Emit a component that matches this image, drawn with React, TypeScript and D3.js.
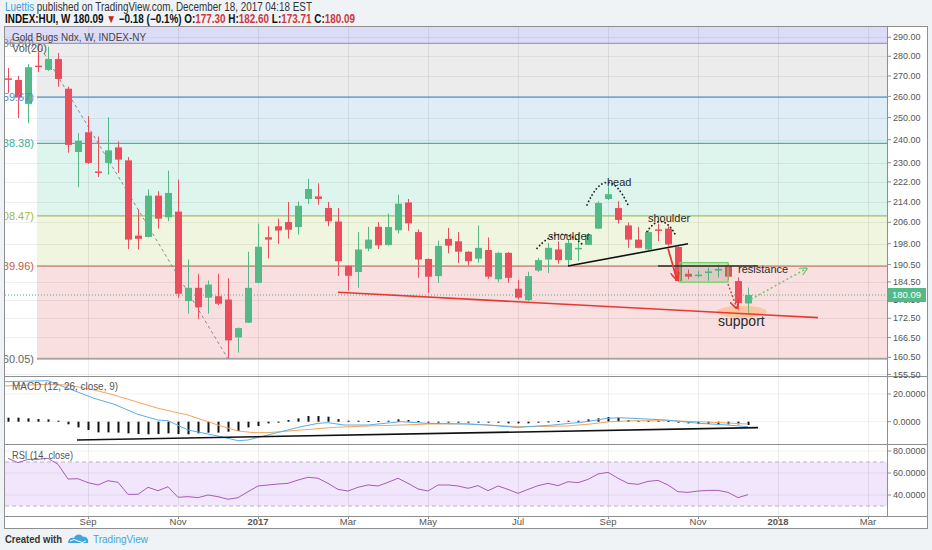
import React from 'react';
import * as d3 from 'd3';

// HUI weekly bars, first bar = week of 2016-07-11
const barOpen = [268.8, 268.0, 256.4, 275.2, 273.0, 278.6, 263.7, 234.6, 243.3, 226.3, 229.9, 236.6, 231.0, 201.0, 200.5, 216.4, 207.9, 210.1, 178.1, 182.5, 179.2, 179.7, 178.6, 166.5, 171.1, 184.2, 200.4, 204.5, 206.1, 204.2, 215.1, 216.1, 211.5, 206.3, 190.1, 187.9, 196.2, 204.3, 197.5, 203.0, 213.7, 202.3, 192.5, 186.5, 199.8, 198.9, 195.1, 192.6, 195.7, 185.4, 194.7, 182.2, 178.4, 188.4, 192.3, 195.9, 192.1, 196.1, 197.6, 203.6, 215.1, 211.5, 204.8, 199.5, 195.9, 203.3, 203.6, 196.8, 187.3, 186.6, 187.6, 188.4, 190.1, 184.8, 177.30];
const barHigh = [274.0, 270.0, 276.0, 286.8, 285.0, 281.7, 264.7, 242.9, 250.7, 241.4, 250.2, 239.2, 232.4, 210.9, 218.9, 218.2, 226.6, 222.9, 192.3, 187.3, 185.0, 187.3, 185.7, 169.6, 195.1, 205.5, 204.5, 207.4, 213.9, 214.1, 223.2, 221.4, 213.9, 211.5, 190.2, 202.3, 204.3, 206.1, 209.4, 216.8, 215.1, 203.3, 192.7, 199.1, 203.9, 202.3, 195.3, 204.8, 200.3, 194.9, 195.0, 185.2, 188.0, 192.9, 198.3, 198.9, 199.5, 201.9, 202.0, 214.2, 220.1, 214.2, 205.9, 204.2, 203.0, 205.5, 204.5, 197.0, 188.8, 188.2, 189.4, 190.5, 190.8, 186.0, 182.60];
const barLow = [261.6, 249.8, 247.4, 272.0, 272.5, 264.7, 234.3, 219.8, 229.5, 224.0, 225.0, 225.7, 196.1, 195.9, 200.3, 203.6, 206.4, 179.2, 174.0, 172.2, 174.0, 176.8, 160.3, 161.9, 171.0, 184.0, 192.7, 198.0, 199.9, 201.4, 213.1, 212.8, 204.5, 186.5, 181.6, 182.5, 195.3, 196.1, 197.3, 201.8, 202.8, 185.9, 180.7, 184.2, 194.5, 191.0, 190.2, 191.2, 185.6, 184.4, 184.2, 178.7, 178.1, 188.0, 187.6, 190.8, 190.2, 191.8, 197.5, 203.5, 214.7, 205.5, 196.5, 196.3, 195.7, 199.0, 197.1, 184.5, 185.4, 186.0, 184.9, 186.0, 185.1, 175.1, 173.71];
const barClose = [268.2, 259.4, 274.4, 274.6, 278.6, 268.5, 237.7, 239.5, 229.9, 225.7, 235.3, 231.3, 199.5, 199.8, 216.4, 207.4, 217.5, 180.5, 182.5, 176.1, 183.6, 177.2, 165.6, 169.4, 182.5, 196.9, 199.5, 202.9, 203.2, 212.4, 219.1, 215.1, 206.4, 191.7, 186.6, 195.9, 199.5, 197.4, 204.2, 213.2, 205.6, 192.3, 186.3, 197.2, 197.3, 195.1, 191.7, 196.5, 186.3, 194.7, 185.9, 179.2, 186.5, 192.1, 196.5, 192.1, 198.3, 196.5, 201.4, 213.5, 217.0, 206.9, 199.5, 196.5, 202.3, 202.9, 197.7, 184.8, 186.3, 187.0, 188.1, 189.0, 186.3, 177.4, 180.09];

// MACD (12, 26, close, 9)
const histVals = [2.9, 2.9, 2.4, 1.9, 1.7, 0.7, -1.9, -4.1, -6.0, -7.7, -7.7, -7.9, -8.4, -8.9, -9.1, -8.9, -8.4, -8.9, -9.1, -8.4, -7.9, -7.9, -7.2, -6.7, -4.1, -3.1, -1.2, -0.2, 1.2, 2.4, 4.1, 4.1, 3.6, 1.9, 0.7, 0.7, 0.5, 0.5, 0.7, 1.7, 1.2, 0.5, -0.5, -0.5, -0.5, -0.5, -0.5, -0.3, -0.7, -0.7, -1.2, -1.2, -1.2, -0.5, 0.2, 0.5, 0.7, 0.7, 1.7, 2.4, 3.4, 2.9, 1.2, 0.7, 0.7, 0.7, 0.5, -0.7, -1.2, -1.7, -1.7, -1.7, -1.9, -1.9, -2.4];
const macdBars = [-0.3, 4, 6, 8.6, 10.6, 13, 15, 16, 18, 20, 21.3, 23, 24, 25.3, 27.6, 29.3, 31, 32, 33.6, 36, 39.3, 42, 45.9, 47.9, 50.9, 54.2, 57.6, 59.9, 61.2, 65.9, 69.2, 71.9, 74];
const macdVals = [28.9, 29.6, 24.1, 16.9, 12.6, 5.3, 1.2, 0.7, -6.0, -8.9, -10.8, -13.7, -13.2, -10.8, -6.7, -3.6, -1.2, -0.7, -2.4, -2.4, 0.0, -1.2, -1.7, -2.4, -4.1, -2.6, -0.2, 2.4, 2.9, 1.2, -1.2, -2.4, -3.6];
const signalBars = [-0.3, 4, 6, 8.6, 10.6, 15, 18, 21, 23, 24.6, 26, 29.3, 32.6, 36, 39.3, 42, 45.9, 50.9, 55.9, 58.2, 60.2, 62.6, 65.9, 69.2, 74];
const signalVals = [25.8, 27.0, 26.5, 22.9, 19.3, 9.7, 4.8, -2.4, -6.7, -7.9, -7.9, -6.0, -4.1, -3.1, -2.4, -1.7, -1.5, -3.6, -3.1, -1.7, 0.0, 0.7, 0.7, 0.0, -1.7];

// RSI (14, close)
const rsiVals = [73.4, 69.4, 72.4, 72.4, 73.4, 67.9, 54.5, 54.8, 51.2, 49.1, 53.0, 51.5, 40.6, 40.6, 47.0, 43.9, 47.5, 37.9, 38.5, 37.6, 40.0, 38.5, 36.1, 37.6, 43.0, 48.2, 49.1, 50.0, 50.6, 53.6, 56.1, 55.2, 50.6, 45.1, 43.6, 47.0, 49.1, 48.2, 51.5, 55.2, 50.6, 45.5, 43.6, 49.1, 49.1, 48.2, 46.1, 48.5, 43.9, 48.2, 45.1, 41.5, 45.1, 48.5, 50.6, 48.5, 52.1, 51.2, 54.2, 59.1, 60.6, 55.2, 50.6, 49.7, 52.4, 53.3, 49.1, 43.0, 42.4, 43.6, 44.2, 44.2, 42.4, 37.6, 40.3];

// axes
const timeTicks = [new Date(2016, 8, 5), new Date(2016, 10, 7), new Date(2017, 0, 2), new Date(2017, 2, 6), new Date(2017, 4, 1), new Date(2017, 6, 3), new Date(2017, 8, 4), new Date(2017, 10, 6), new Date(2018, 0, 1), new Date(2018, 2, 5)];
const timeLabels = ['Sep', 'Nov', '2017', 'Mar', 'May', 'Jul', 'Sep', 'Nov', '2018', 'Mar'];
const priceTicks = [290, 280, 270, 260, 250, 240, 230, 222, 214, 206, 198, 190.5, 184.5, 178.5, 172.5, 166.5, 160.5, 155.5];
const macdTicks = [20, 0];
const rsiTicks = [80, 60, 40];

// fib retracement drawn from bar 3 high to bar 22 low
const fibLevels = [286.80, 259.67, 238.38, 208.47, 189.96, 160.05];
const fibLabels = ['(286.80)', '(259.67)', '(238.38)', '(208.47)', '(189.96)', '(160.05)'];
const fibLineColors = ['#9d9bb8', '#4a94d6', '#3dbba0', '#a3bf55', '#be7d6c', '#8a8a8a'];
const fibTextColors = ['#8a8a8a', '#3f8fd4', '#32b496', '#a0bb48', '#c0604e', '#666'];
const fibBandColors = ['#ececec', '#dfedf7', '#def5ee', '#eff5de', '#f9dfe0'];

// annotations, [bar index, price]
const supportLine = [[33.0, 181.0], [81.0, 172.7]];
const necklineLine = [[56.0, 190.0], [68.0, 198.0]];
const resistLine = [[65.0, 190.0], [75.0, 190.0]];
const resistBox = [[67.2, 191.2], [72.0, 184.4]];
const dropArrow = [[66.0, 196.3], [66.9, 185.2]];
const fallArrow = [[72.0, 183.8], [72.9, 175.7]];
const bounceArrow = [[74.3, 178.7], [79.9, 189.2]];
const supportZone = [73.4, 174.6];
const headArc = [[57.9, 212.7], [59.9, 231.2], [62.0, 212.7]];
const leftShoulderArc = [[52.9, 196.3], [55.2, 206.1], [57.5, 197.5]];
const rightShoulderArc = [[63.9, 202.5], [65.4, 210.9], [66.8, 200.9]];
const noteText = ['head', 'shoulder', 'shoulder', 'resistance', 'support'];
const notePos = [[59.9, 220.3], [54.0, 199.4], [64.0, 206.3], [73.0, 187.6], [71.0, 170.1]];

const UP = '#53b987';
const DOWN = '#eb4d5c';
const FONT = '"Liberation Sans", Arial, sans-serif';

export default function App() {
	const firstBar = new Date(2016, 6, 11);
	const x = d3.scaleLinear().domain([0, 86]).range([8, 868]);
	const y = d3.scaleLog().domain([160.5, 290]).range([357.3, 37.3]);
	const yM = d3.scaleLinear().domain([0, 20]).range([421.7, 394]);
	const yR = d3.scaleLinear().domain([40, 80]).range([495, 451]);
	const tickX = timeTicks.map(d => x(d3.timeWeek.count(firstBar, d)));

	const paneL = 5, paneR = 887, frameR = 927;
	const mainT = 27, mainB = 376, macdB = 444, rsiB = 516, axisB = 528;

	const P = (p: number[]) => [x(p[0]), y(p[1])] as [number, number];
	const seg = (s: number[][]) => {
		const a = P(s[0]), b = P(s[1]);
		return { x1: a[0], y1: a[1], x2: b[0], y2: b[1] };
	};
	const arcPath = (s: number[][]) => {
		const a = P(s[0]), c = P(s[1]), b = P(s[2]);
		return `M${a[0]},${a[1]} Q${c[0]},${c[1]} ${b[0]},${b[1]}`;
	};

	const macdLine = d3.line<number>().x((d, i) => x(macdBars[i])).y(d => yM(d))(macdVals);
	const signalLine = d3.line<number>().x((d, i) => x(signalBars[i])).y(d => yM(d))(signalVals);
	const rsiLine = d3.line<number>().x((d, i) => x(i)).y(d => yR(d))(rsiVals);

	const fibX0 = x(3) - 1;
	const last = barClose[barClose.length - 1];
	const box0 = P(resistBox[0]), box1 = P(resistBox[1]);
	const zone = P(supportZone);

	return (
		<svg width={932} height={550} style={{ position: 'absolute', left: 0, top: 0 }} fontFamily={FONT}>
			<defs>
				<clipPath id="mainClip"><rect x={paneL} y={mainT} width={paneR - paneL} height={mainB - mainT} /></clipPath>
				<clipPath id="macdClip"><rect x={paneL} y={mainB} width={paneR - paneL} height={macdB - mainB} /></clipPath>
				<clipPath id="rsiClip"><rect x={paneL} y={macdB} width={paneR - paneL} height={rsiB - macdB} /></clipPath>
				<marker id="arRed" viewBox="0 0 10 10" refX="9" refY="5" markerWidth="9" markerHeight="9" markerUnits="userSpaceOnUse" orient="auto">
					<path d="M0,0 L10,5 L0,10" fill="none" stroke="#e53935" strokeWidth="1.8" />
				</marker>
				<marker id="arGreen" viewBox="0 0 10 10" refX="9" refY="5" markerWidth="8" markerHeight="8" markerUnits="userSpaceOnUse" orient="auto">
					<path d="M0,0 L10,5 L0,10" fill="none" stroke="#66cc66" strokeWidth="1.5" />
				</marker>
			</defs>

			<rect width={932} height={550} fill="#eff3f6" />

			{/* header */}
			<text x={5} y={11} fontSize={12} fill="#333" textLength={307} lengthAdjust="spacingAndGlyphs">
				<tspan fill="#3aa0dc">Luettis</tspan> published on TradingView.com, December 18, 2017 04:18 EST
			</text>
			<text x={5} y={22.5} fontSize={12} fill="#111" fontWeight={600} textLength={350} lengthAdjust="spacingAndGlyphs">
				INDEX:HUI, W  180.09 <tspan fill="#c62828">▼</tspan> −0.18 (−0.1%) O:<tspan fill="#d0363d">177.30</tspan> H:<tspan fill="#d0363d">182.60</tspan> L:<tspan fill="#d0363d">173.71</tspan> C:<tspan fill="#d0363d">180.09</tspan>
			</text>

			<rect x={paneL - 0.5} y={mainT - 0.5} width={frameR - paneL + 1} height={axisB - mainT + 1} fill="#fff" stroke="#8f8f8f" />

			{/* main pane */}
			<g clipPath="url(#mainClip)">
				<rect x={paneL} y={mainT} width={paneR - paneL} height={y(fibLevels[0]) - mainT} fill="#dddcf8" />
				{fibBandColors.map((c, i) => (
					<rect key={i} x={fibX0} y={y(fibLevels[i])} width={paneR - fibX0} height={y(fibLevels[i + 1]) - y(fibLevels[i])} fill={c} />
				))}
				{priceTicks.map(p => (
					<line key={p} x1={paneL} x2={paneR} y1={Math.round(y(p)) + 0.5} y2={Math.round(y(p)) + 0.5} stroke="#000" strokeOpacity={0.06} />
				))}
				{tickX.map((tx, i) => (
					<line key={i} x1={tx + 0.5} x2={tx + 0.5} y1={mainT} y2={mainB} stroke="#000" strokeOpacity={0.07} />
				))}
				{fibLevels.map((f, i) => (
					<line key={f} x1={i === 0 ? paneL : fibX0} x2={paneR} y1={y(f)} y2={y(f)} stroke={fibLineColors[i]} strokeWidth={1.2} />
				))}
				<line x1={x(3)} y1={y(fibLevels[0])} x2={x(22)} y2={y(fibLevels[5])} stroke="#8a8a8a" strokeDasharray="3,3" />
				<line x1={paneL} x2={paneR} y1={y(last)} y2={y(last)} stroke="#4fa88a" strokeDasharray="1,2" />

				{barOpen.map((o, i) => {
					const c = barClose[i];
					const col = c >= o ? UP : DOWN;
					const cx = Math.round(x(i)) + 0.5;
					const top = y(Math.max(o, c)), bot = y(Math.min(o, c));
					return (
						<g key={i}>
							<line x1={cx} x2={cx} y1={y(barHigh[i])} y2={y(barLow[i])} stroke={col} />
							<rect x={cx - 3.5} y={top} width={7} height={Math.max(1.5, bot - top)} fill={col} />
						</g>
					);
				})}

				{/* drawings */}
				<ellipse cx={zone[0]} cy={zone[1]} rx={25} ry={6} fill="#ffa040" fillOpacity={0.4} />
				<line {...seg(supportLine)} stroke="#e53935" strokeWidth={1.6} />
				<line {...seg(necklineLine)} stroke="#111" strokeWidth={1.6} />
				<rect x={box0[0]} y={box0[1]} width={box1[0] - box0[0]} height={box1[1] - box0[1]} fill="#6e8a5e" fillOpacity={0.22} stroke="#72d46a" strokeWidth={1.3} />
				<line {...seg(resistLine)} stroke="#333" strokeWidth={1.6} />
				<line {...seg(dropArrow)} stroke="#e53935" strokeWidth={1.8} markerEnd="url(#arRed)" />
				<line {...seg(fallArrow)} stroke="#e53935" strokeWidth={1.5} strokeDasharray="2,2" markerEnd="url(#arRed)" />
				<line {...seg(bounceArrow)} stroke="#66cc66" strokeWidth={1.5} strokeDasharray="2,2.5" markerEnd="url(#arGreen)" />
				{[headArc, leftShoulderArc, rightShoulderArc].map((a, i) => (
					<path key={i} d={arcPath(a)} fill="none" stroke="#222" strokeWidth={1.8} strokeDasharray="0.1,3.6" strokeLinecap="round" />
				))}
				{noteText.map((t, i) => {
					const p = P(notePos[i]);
					return (
						<text key={i} x={p[0]} y={p[1]} fontSize={t === 'support' ? 14 : 11} fill="#2a2a2a">{t}</text>
					);
				})}

				{fibLevels.map((f, i) => (
					<text key={f} x={34} y={y(f)} dy="0.35em" textAnchor="end" fontSize={11} fill={fibTextColors[i]}>{fibLabels[i]}</text>
				))}
				<text x={12} y={41} fontSize={11} fill="#444" textLength={134} lengthAdjust="spacingAndGlyphs">Gold Bugs Ndx, W, INDEX-NY</text>
				<text x={12} y={52} fontSize={11} fill="#555">Vol(20)</text>
			</g>

			{/* MACD pane */}
			<g clipPath="url(#macdClip)">
				{macdTicks.map(v => (
					<line key={v} x1={paneL} x2={paneR} y1={yM(v)} y2={yM(v)} stroke="#000" strokeOpacity={0.06} />
				))}
				{tickX.map((tx, i) => (
					<line key={i} x1={tx + 0.5} x2={tx + 0.5} y1={mainB} y2={macdB} stroke="#000" strokeOpacity={0.07} />
				))}
				{histVals.map((v, i) => (
					<rect key={i} x={Math.round(x(i)) - 0.5} y={Math.min(yM(v), yM(0))} width={2} height={Math.max(1, Math.abs(yM(v) - yM(0)))} fill="#111" />
				))}
				<path d={signalLine ?? ''} fill="none" stroke="#f4a460" strokeWidth={1} />
				<path d={macdLine ?? ''} fill="none" stroke="#5aaee6" strokeWidth={1} />
				<line x1={x(6.9)} y1={yM(-13.2)} x2={x(75)} y2={yM(-4.3)} stroke="#111" strokeWidth={1.6} />
				<text x={12} y={390} fontSize={11} fill="#555" textLength={106} lengthAdjust="spacingAndGlyphs">MACD (12, 26, close, 9)</text>
			</g>

			{/* RSI pane */}
			<g clipPath="url(#rsiClip)">
				<rect x={paneL} y={yR(70)} width={paneR - paneL} height={yR(30) - yR(70)} fill="#f1e6fb" />
				{rsiTicks.map(v => (
					<line key={v} x1={paneL} x2={paneR} y1={yR(v)} y2={yR(v)} stroke="#000" strokeOpacity={0.06} />
				))}
				{tickX.map((tx, i) => (
					<line key={i} x1={tx + 0.5} x2={tx + 0.5} y1={macdB} y2={rsiB} stroke="#000" strokeOpacity={0.07} />
				))}
				{[70, 30].map(v => (
					<line key={v} x1={paneL} x2={paneR} y1={yR(v)} y2={yR(v)} stroke="#b9b2c6" strokeDasharray="4,3" />
				))}
				<path d={rsiLine ?? ''} fill="none" stroke="#a85cb8" strokeWidth={1} />
				<text x={12} y={459} fontSize={11} fill="#555" textLength={61} lengthAdjust="spacingAndGlyphs">RSI (14, close)</text>
			</g>

			{/* separators */}
			{[mainB, macdB, rsiB].map(v => (
				<line key={v} x1={paneL} x2={frameR} y1={v + 0.5} y2={v + 0.5} stroke="#8f8f8f" />
			))}
			<line x1={paneR + 0.5} x2={paneR + 0.5} y1={mainT} y2={rsiB} stroke="#8f8f8f" />

			{/* price axis */}
			{priceTicks.map(p => (
				<g key={p}>
					<line x1={paneR} x2={paneR + 4} y1={y(p)} y2={y(p)} stroke="#8f8f8f" />
					<text x={893} y={y(p)} dy="0.35em" fontSize={9} fill="#555">{p.toFixed(2)}</text>
				</g>
			))}
			<rect x={888} y={y(last) - 7} width={38} height={14} fill={UP} />
			<text x={892} y={y(last)} dy="0.35em" fontSize={9.5} fill="#fff">{last.toFixed(2)}</text>
			{macdTicks.map(v => (
				<g key={v}>
					<line x1={paneR} x2={paneR + 4} y1={yM(v)} y2={yM(v)} stroke="#8f8f8f" />
					<text x={893} y={yM(v)} dy="0.35em" fontSize={9} fill="#555">{v.toFixed(4)}</text>
				</g>
			))}
			{rsiTicks.map(v => (
				<g key={v}>
					<line x1={paneR} x2={paneR + 4} y1={yR(v)} y2={yR(v)} stroke="#8f8f8f" />
					<text x={893} y={yR(v)} dy="0.35em" fontSize={9} fill="#555">{v.toFixed(4)}</text>
				</g>
			))}

			{/* time axis */}
			{tickX.map((tx, i) => (
				<g key={i}>
					<line x1={tx + 0.5} x2={tx + 0.5} y1={rsiB} y2={rsiB + 3} stroke="#8f8f8f" />
					<text x={tx} y={525} textAnchor="middle" fontSize={9.5} fill="#555" fontWeight={timeLabels[i].length === 4 ? 700 : 400}>{timeLabels[i]}</text>
				</g>
			))}

			{/* footer */}
			<text x={5} y={543} fontSize={11} fill="#333" fontWeight={600} textLength={57} lengthAdjust="spacingAndGlyphs">Created with</text>
			<path d="M68,543 C68,539 71,537 74,538 C75,534 81,533 83,537 C86,536 89,539 88,543 Z" fill="#3fa5de" />
			<path d="M70,541 Q74,538 78,541 Q82,544 86,541" fill="none" stroke="#fff" strokeWidth={1} />
			<text x={93} y={543} fontSize={10.5} fill="#3fa5de" textLength={55} lengthAdjust="spacingAndGlyphs">TradingView</text>
		</svg>
	);
}
